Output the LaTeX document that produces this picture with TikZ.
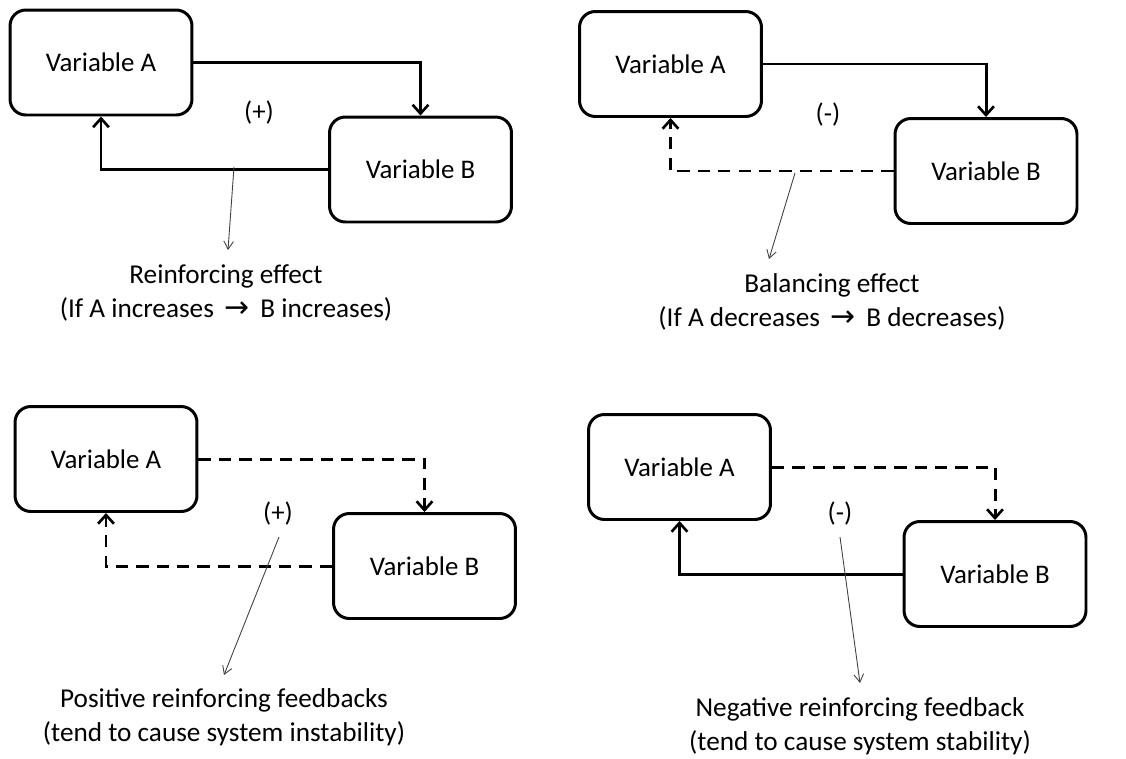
\documentclass[tikz,border=0pt]{standalone}
\usepackage{fontspec}
\setmainfont{Carlito}
\newfontfamily\symfont{DejaVu Sans}
\usetikzlibrary{arrows.meta}
\newcommand{\rarr}{\,{\symfont\fontsize{17}{20}\selectfont →}\,}
\begin{document}
\begin{tikzpicture}[x=0.02cm,y=-0.02cm,
  varbox/.style={draw=black,line width=1.7pt,rounded corners=9pt,
    minimum width=3.64cm,minimum height=2.1cm,inner sep=0pt,
    font=\fontsize{15.3}{18}\selectfont},
  conn/.style={line width=1.7pt,-{Straight Barb[length=5pt,width=9pt,line width=1.5pt]}},
  dconn/.style={conn,dash pattern=on 7pt off 4.6pt},
  pointer/.style={draw=black!75,line width=0.5pt,-{Straight Barb[length=4.5pt,width=5.5pt,line width=0.5pt]}},
  sign/.style={font=\fontsize{15.3}{18}\selectfont},
  caption/.style={align=center,font=\fontsize{15.5}{19.5}\selectfont,inner sep=0pt}]
\useasboundingbox (0,0) rectangle (1126,758);

% Reinforcing effect
\node[varbox] (A1) at (101,62.5) {Variable A};
\node[varbox] (B1) at (420.5,169.5) {Variable B};
\draw[conn] (A1.east) -| (B1.north);
\draw[conn] (B1.west) -| (A1.south);
\node[sign] (s1) at (259,113) {(+)};
\coordinate (p1a) at (234,167);
\coordinate (p1b) at (228,250);
\draw[pointer] (p1a) -- (p1b);
\node[caption] (c1) at (226,293) {Reinforcing effect\\(If A increases \rarr{} B increases)};

% Balancing effect
\node[varbox] (A2) at (670.5,64) {Variable A};
\node[varbox] (B2) at (986,171) {Variable B};
\draw[conn] (A2.east) -| (B2.north);
\draw[dconn] (B2.west) -| (A2.south);
\node[sign] (s2) at (828,115) {(-)};
\coordinate (p2a) at (795,173);
\coordinate (p2b) at (769,259);
\draw[pointer] (p2a) -- (p2b);
\node[caption] (c2) at (832,302) {Balancing effect\\(If A decreases \rarr{} B decreases)};

% Positive reinforcing feedbacks
\node[varbox] (A3) at (106,459) {Variable A};
\node[varbox] (B3) at (424.5,566) {Variable B};
\draw[dconn] (A3.east) -| (B3.north);
\draw[dconn] (B3.west) -| (A3.south);
\node[sign] (s3) at (278,514) {(+)};
\coordinate (p3a) at (279,537);
\coordinate (p3b) at (224,675);
\draw[pointer] (p3a) -- (p3b);
\node[caption] (c3) at (224,717) {Positive reinforcing feedbacks\\(tend to cause system instability)};

% Negative reinforcing feedback
\node[varbox] (A4) at (679.5,467) {Variable A};
\node[varbox] (B4) at (995,574) {Variable B};
\draw[dconn] (A4.east) -| (B4.north);
\draw[conn] (B4.west) -| (A4.south);
\node[sign] (s4) at (840,514) {(-)};
\coordinate (p4a) at (840,537);
\coordinate (p4b) at (860,683);
\draw[pointer] (p4a) -- (p4b);
\node[caption] (c4) at (860,726) {Negative reinforcing feedback\\(tend to cause system stability)};
\end{tikzpicture}
\end{document}
